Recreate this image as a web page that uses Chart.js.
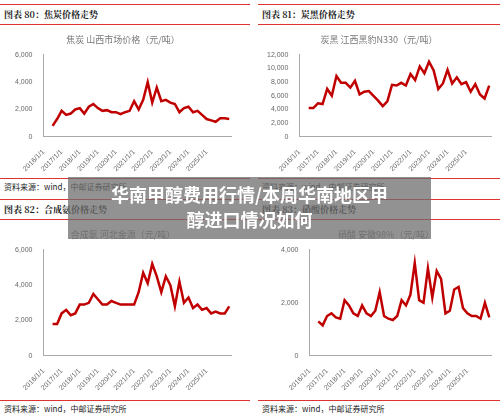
<!DOCTYPE html>
<html><head><meta charset="utf-8">
<script src="https://cdn.jsdelivr.net/npm/chart.js@4.4.1/dist/chart.umd.min.js"></script>
<style>
body{margin:0;width:500px;height:418px;background:#fff;position:relative;overflow:hidden;font-family:"Noto Sans CJK SC",sans-serif}
.hd{position:absolute;height:19px;border-top:1px solid #d33;border-bottom:1px solid #d33;font-size:9px;font-weight:bold;line-height:19px;padding-left:4px;color:#222;font-family:"Noto Serif CJK SC","Noto Sans CJK SC",serif}
.src{position:absolute;height:14px;border-top:1px solid #d33;font-size:8px;line-height:16px;padding-left:4px;color:#222}
.box{position:absolute}
#ov{position:absolute;left:68px;top:177px;width:363px;height:62px;background:rgba(110,110,110,0.75);color:#fff;font-weight:bold;font-size:18px;text-align:center;line-height:25px;padding-top:5px;box-sizing:border-box}
</style></head><body>
<div class="hd" style="left:0;top:4px;width:246px">图表 80：焦炭价格走势</div>
<div class="hd" style="left:258px;top:4px;width:242px">图表 81：炭黑价格走势</div>
<div class="hd" style="left:0;top:199px;width:246px">图表 82：合成氨价格走势</div>
<div class="hd" style="left:258px;top:199px;width:242px">图表 83：硝酸价格走势</div>
<div class="box" style="left:0;top:30px;width:240px;height:146px"><canvas id="c0"></canvas></div>
<div class="box" style="left:258px;top:30px;width:242px;height:146px"><canvas id="c1"></canvas></div>
<div class="box" style="left:0;top:225px;width:240px;height:170px"><canvas id="c2"></canvas></div>
<div class="box" style="left:258px;top:225px;width:242px;height:170px"><canvas id="c3"></canvas></div>
<div class="src" style="left:0;top:178px;width:246px">资料来源：wind，中邮证券研究所</div>
<div class="src" style="left:258px;top:178px;width:242px">资料来源：wind，中邮证券研究所</div>
<div class="src" style="left:0;top:400px;width:246px">资料来源：wind，中邮证券研究所</div>
<div class="src" style="left:258px;top:400px;width:242px">资料来源：wind，中邮证券研究所</div>
<div id="ov">华南甲醇费用行情/本周华南地区甲<br>醇进口情况如何</div>
<script>
const times = [2016.5,2016.75,2017,2017.25,2017.5,2017.75,2018,2018.25,2018.5,2018.75,2019,2019.25,2019.5,2019.75,2020,2020.25,2020.5,2020.75,2021,2021.25,2021.5,2021.75,2022,2022.25,2022.5,2022.75,2023,2023.25,2023.5,2023.75,2024,2024.25,2024.5,2024.75,2025,2025.25,2025.5,2025.75,2026,2026.25];
const coke = [800,1300,1900,1600,1700,2000,2100,1700,2200,2400,2100,1900,1950,1800,1800,1650,1800,1900,2600,2000,2700,4000,2500,3600,2600,2700,2500,2400,1800,2100,2200,1800,1900,1600,1300,1200,1100,1350,1350,1300];
const carbonBlack = [4200,4200,4900,4800,7000,6000,8900,7900,7900,7200,8200,6200,6600,6700,6000,5300,4500,5200,7600,7500,7900,7500,9200,8300,10300,9300,11000,9700,7000,7800,9800,7800,8700,7700,8000,6600,7700,6200,5600,7500];
const ammonia = [1800,1800,2400,2600,2300,2400,2900,2900,3000,3500,3200,2900,2900,3100,3000,2900,2900,2900,2900,3600,4700,4100,5200,4500,3600,4500,4000,2800,4200,3000,3300,2700,2900,2600,2700,2400,2500,2400,2400,2800];
const nitricAcid = [1300,1150,1500,1600,1450,1400,2100,1900,1600,1500,1900,1600,1500,1700,2400,1500,1400,1350,1500,2100,1900,2300,3500,2100,2000,3300,2200,3200,2900,1600,1700,2500,2600,1800,1600,1500,1500,1400,2000,1450];

function draw(id, title, vals, max, step, padLeft){
  new Chart(document.getElementById(id), {
    type: 'line',
    data: { datasets: [{ data: times.map((t,i)=>({x:t,y:vals[i]})), borderColor:'#c00000', borderWidth:2.5, pointRadius:0, tension:0 }] },
    options: {
      responsive:true, maintainAspectRatio:false, animation:false,
      layout:{padding:{left:padLeft, right:6}},
      plugins:{ legend:{display:false}, tooltip:{enabled:false},
        title:{display:true, text:title, color:'#777', font:{size:9, weight:'normal', family:'Noto Sans CJK SC'}, padding:{top:4,bottom:10}} },
      scales:{
        x:{type:'linear', min:2016, max:2026.35, grid:{display:false}, border:{color:'#aaa'},
           ticks:{stepSize:1, autoSkip:false, maxRotation:45, minRotation:45, color:'#666', font:{size:7}, callback:v=>Number.isInteger(v)?v+'/1/1':''}},
        y:{min:0, max:max, grid:{display:false}, border:{color:'#aaa'},
           ticks:{stepSize:step, color:'#666', font:{size:7}, callback:v=>v.toLocaleString('en-US')}}
      }
    }
  });
}
draw('c0','焦炭 山西市场价格（元/吨）',coke,6000,2000,12);
draw('c1','炭黑 江西黑豹N330（元/吨）',carbonBlack,12000,2000,6);
draw('c2','合成氨 河北金源（元/吨）',ammonia,6000,2000,12);
draw('c3','硝酸 安徽98%（元/吨）',nitricAcid,4000,2000,20);
</script>
</body></html>
